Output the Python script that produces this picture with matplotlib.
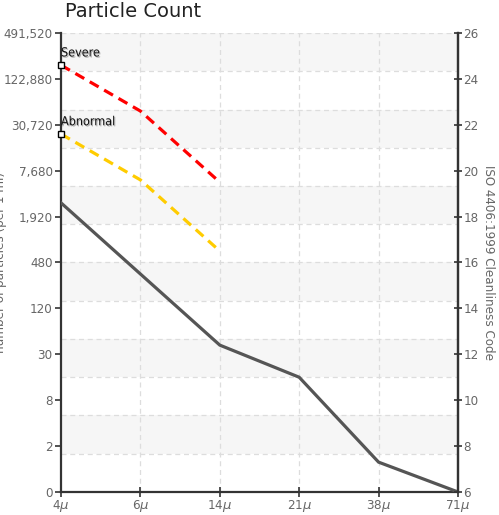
import matplotlib
matplotlib.use("Agg")
import matplotlib.pyplot as plt
import matplotlib.patheffects as pe
from matplotlib import font_manager

# particle sizes (x categories)
sizes = ["4$\\mu$", "6$\\mu$", "14$\\mu$", "21$\\mu$", "38$\\mu$", "71$\\mu$"]

# ISO 4406 code
sample_codes = [18.6, 15.5, 12.4, 11.0, 7.3, 6.0]
severe_codes = [24.6, 22.6, 19.5]
abnormal_codes = [21.6, 19.6, 16.5]

# left axis labels (particle counts) and right axis codes
code_ticks = [6, 8, 10, 12, 14, 16, 18, 20, 22, 24, 26]
count_labels = ["0", "2", "8", "30", "120", "480", "1,920", "7,680",
                "30,720", "122,880", "491,520"]

# condensed font if there is one
names = set(f.name for f in font_manager.fontManager.ttflist)
if "Liberation Sans Narrow" in names:
    narrow = font_manager.FontProperties(family="Liberation Sans Narrow")
else:
    narrow = font_manager.FontProperties(family="DejaVu Sans", stretch="condensed")
tick_col = "#666666"

fig = plt.figure(figsize=(4.99, 5.15), dpi=100)
ax = fig.add_axes([0.1222, 0.0447, 0.7956, 0.8912])

ymin, ymax = 6, 26
nb = 12
step = (ymax - ymin) / nb
for i in range(nb):
    top = ymax - i * step
    if i % 2 == 0:
        ax.axhspan(top - step, top, color="#f6f6f6", zorder=0, lw=0)
    ax.axhline(top - step, color="#dddddd", lw=0.9, ls=(0, (4, 3)), zorder=1)
ax.axhline(ymax, color="#dddddd", lw=0.9, ls=(0, (4, 3)), zorder=1)

x = list(range(len(sizes)))
for xi in x[1:-1]:
    ax.axvline(xi, color="#dddddd", lw=0.9, ls=(0, (4, 3)), zorder=1)

ax.plot(x, sample_codes, color="#555555", lw=2.3, zorder=3, solid_joinstyle="miter")
ax.plot(x[:3], severe_codes, color="#ff0000", lw=2.3, ls=(0, (3.2, 2)), zorder=3)
ax.plot(x[:3], abnormal_codes, color="#ffcc00", lw=2.3, ls=(0, (3.2, 2)), zorder=3)

shadow = [pe.withSimplePatchShadow(offset=(0.8, -0.8), shadow_rgbFace="#999999", alpha=0.8)]
for val, name in [(severe_codes[0], "Severe"), (abnormal_codes[0], "Abnormal")]:
    ax.plot([0], [val], marker="s", ms=4.5, mfc="white", mec="black", mew=1.0,
            zorder=5, clip_on=False)
    t = ax.text(0.0, val + 0.25, name, fontproperties=narrow, fontsize=9,
                color="#111111", ha="left", va="bottom", zorder=6)
    t.set_path_effects(shadow)

ax.set_xlim(0, len(sizes) - 1)
ax.set_ylim(ymin, ymax)
ax.set_xticks(x)
ax.set_xticklabels(sizes)
ax.set_yticks(code_ticks)
ax.set_yticklabels(count_labels)
ax.tick_params(axis="y", direction="out", length=4, width=1.2, color="#333333",
               labelcolor=tick_col, pad=2)
ax.tick_params(axis="x", direction="inout", length=7, width=1.2, color="#333333",
               labelcolor=tick_col, pad=1)
for lab in ax.get_yticklabels() + ax.get_xticklabels():
    lab.set_fontproperties(narrow)
    lab.set_fontsize(9.5)

ax.spines["top"].set_visible(False)
for s in ["left", "bottom", "right"]:
    ax.spines[s].set_color("#333333")
    ax.spines[s].set_linewidth(1.6)

ax2 = ax.twinx()
ax2.set_ylim(ymin, ymax)
ax2.set_yticks(code_ticks)
ax2.tick_params(axis="y", direction="inout", length=6, width=1.2, color="#333333",
                labelcolor=tick_col, pad=1)
for lab in ax2.get_yticklabels():
    lab.set_fontproperties(narrow)
    lab.set_fontsize(9.5)
for s in ["top", "left", "bottom"]:
    ax2.spines[s].set_visible(False)
ax2.spines["right"].set_color("#333333")
ax2.spines["right"].set_linewidth(1.6)
ax2.set_ylabel("ISO 4406:1999 Cleanliness Code", rotation=270, color=tick_col,
               fontproperties=narrow, fontsize=9.5, labelpad=12)

fig.text(0.002, 0.49, "number of particles (per 1 ml)", rotation=90,
         ha="center", va="center", color=tick_col, fontproperties=narrow, fontsize=9.5)

fig.text(0.130, 0.978, "Particle Count", fontsize=14, color="#222222",
         ha="left", va="center")

fig.savefig("out.png", dpi=100)
